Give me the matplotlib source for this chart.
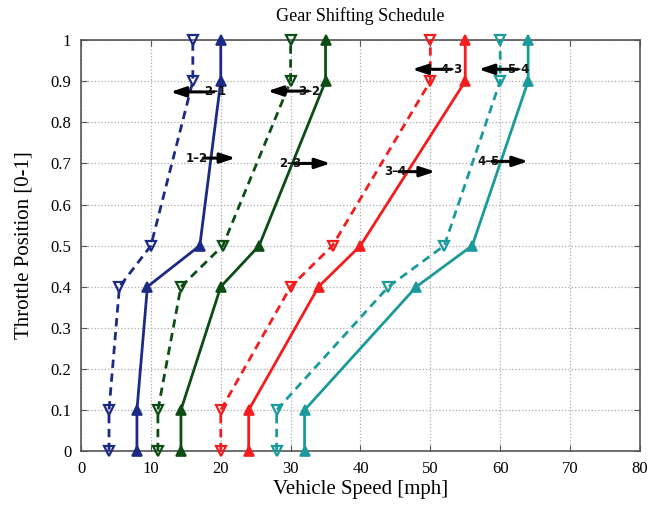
import matplotlib
matplotlib.use("Agg")
import matplotlib.pyplot as plt

# throttle levels shared by every shift line
throttle = [0, 0.1, 0.4, 0.5, 0.9, 1.0]

# upshift speeds (solid) and downshift speeds (dashed), mph
up_12 = [8, 8, 9.5, 17, 20, 20]
dn_21 = [4, 4, 5.5, 10, 16, 16]
up_23 = [14.3, 14.3, 20, 25.5, 35, 35]
dn_32 = [11, 11, 14.3, 20.3, 30, 30]
up_34 = [24, 24, 34, 40, 55, 55]
dn_43 = [20, 20, 30, 36, 50, 50]
up_45 = [32, 32, 48, 56, 64, 64]
dn_54 = [28, 28, 44, 52, 60, 60]

pairs = [
    (up_12, dn_21, "#1b2a85"),
    (up_23, dn_32, "#0b4d14"),
    (up_34, dn_43, "#f41c1c"),
    (up_45, dn_54, "#1b9a9c"),
]

# shift arrow annotations: label, text x, arrow tail x, arrow head x, y
arrow_labels = ["2\u20131", "3\u20132", "4\u20133", "5\u20134",
                "1\u20132", "2\u20133", "3\u20134", "4\u20135"]
arrow_text_x = [17.6, 31.1, 51.4, 61.0, 15.0, 28.4, 43.4, 56.7]
arrow_tail_x = [19.0, 32.5, 53.0, 62.5, 17.5, 30.5, 45.5, 58.8]
arrow_head_x = [12.8, 26.7, 47.4, 56.9, 22.1, 35.7, 50.7, 64.0]
arrow_y = [0.874, 0.876, 0.929, 0.929, 0.713, 0.700, 0.680, 0.705]

serif = "Liberation Serif"

fig = plt.figure(figsize=(6.59, 5.08), dpi=100)
ax = fig.add_axes([0.123, 0.112, 0.848, 0.809])

for up, dn, col in pairs:
    ax.plot(dn, throttle, "--", color=col, lw=2, marker="v", ms=7.5,
            mfc="none", mew=1.6, clip_on=False, zorder=3, dashes=(3, 2))
    ax.plot(up, throttle, "-", color=col, lw=2, marker="^", ms=7.5,
            mfc=col, mew=1.2, clip_on=False, zorder=3)

for lab, tx, t0, t1, y in zip(arrow_labels, arrow_text_x, arrow_tail_x,
                              arrow_head_x, arrow_y):
    ax.annotate("", xy=(t1, y), xytext=(t0, y),
                arrowprops=dict(arrowstyle="-|>,head_length=0.9,head_width=0.3",
                                color="black", lw=2.2, shrinkA=0, shrinkB=0),
                zorder=4)
    ax.text(tx, y, lab, fontsize=8.5, fontweight="bold", color="#111111",
            ha="left", va="center", zorder=5)

ax.set_xlim(0, 80)
ax.set_ylim(0, 1)
ax.set_xticks(range(0, 81, 10))
ax.set_yticks([i / 10 for i in range(11)])
ax.set_yticklabels(["0"] + ["0.%d" % i for i in range(1, 10)] + ["1"])
ax.tick_params(direction="in", top=True, right=True, length=4,
               labelsize=12, color="#555555", pad=7)
for t in ax.get_xticklabels() + ax.get_yticklabels():
    t.set_fontfamily(serif)
ax.grid(True, linestyle=":", color="#aaaaaa", lw=0.9)
for s in ax.spines.values():
    s.set_color("#555555")
    s.set_linewidth(1.2)

ax.set_title("Gear Shifting Schedule", fontfamily=serif, fontsize=13, pad=14)
ax.set_xlabel("Vehicle Speed [mph]", fontfamily=serif, fontsize=15, labelpad=2)
ax.set_ylabel("Throttle Position [0-1]", fontfamily=serif, fontsize=15, labelpad=12)

fig.savefig("out.png", dpi=100)
